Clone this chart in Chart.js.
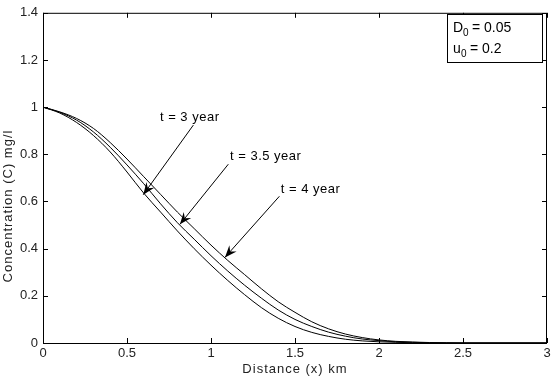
<!DOCTYPE html>
<html>
<head>
<meta charset="utf-8">
<style>
  html, body { margin: 0; padding: 0; background: #fff; }
  #wrap { width: 559px; height: 380px; }
</style>
</head>
<body>
<div id="wrap"><canvas id="myChart" width="559" height="380"></canvas></div>

<script src="https://cdn.jsdelivr.net/npm/chart.js"></script>
<script>
// distance (km)
const distance = [0, 0.1, 0.2, 0.3, 0.4, 0.5, 0.6, 0.7, 0.8, 0.9, 1.0, 1.1, 1.2, 1.3, 1.4, 1.5,
                  1.6, 1.7, 1.8, 1.9, 2.0, 2.1, 2.2, 2.3, 2.4, 2.5, 3.0];

// concentration
const conc3yr = [1.00, 0.975, 0.935, 0.88, 0.81, 0.725, 0.635, 0.555, 0.475, 0.40, 0.33, 0.265, 0.205, 0.15,
                 0.105, 0.07, 0.045, 0.028, 0.016, 0.009, 0.005, 0.003, 0.001, 0, 0, 0, 0];
const conc35yr = [1.00, 0.978, 0.945, 0.895, 0.83, 0.755, 0.675, 0.59, 0.51, 0.44, 0.37, 0.305, 0.245, 0.19,
                  0.14, 0.10, 0.07, 0.046, 0.029, 0.017, 0.01, 0.005, 0.003, 0.001, 0, 0, 0];
const conc4yr = [1.00, 0.98, 0.952, 0.91, 0.85, 0.78, 0.705, 0.63, 0.555, 0.485, 0.415, 0.35, 0.29, 0.23,
                 0.175, 0.13, 0.09, 0.06, 0.038, 0.023, 0.013, 0.007, 0.004, 0.002, 0.001, 0, 0];

const xTicks = [0, 0.5, 1, 1.5, 2, 2.5, 3];
const yTicks = [0, 0.2, 0.4, 0.6, 0.8, 1, 1.2, 1.4];

// curve labels: text anchor and arrow (tail -> tip) in data units
const curveLabels = [
  { text: 't = 3 year',   tx: 0.696, ty: 0.958, x0: 0.895, y0: 0.924, x1: 0.597, y1: 0.629 },
  { text: 't = 3.5 year', tx: 1.113, ty: 0.790, x0: 1.103, y0: 0.758, x1: 0.815, y1: 0.503 },
  { text: 't = 4 year',   tx: 1.415, ty: 0.653, x0: 1.407, y0: 0.622, x1: 1.083, y1: 0.363 }
];

const FONT = '"Liberation Sans", Arial, sans-serif';

const toXY = (xs, ys) => xs.map((x, i) => ({ x: x, y: ys[i] }));

// box frame, inward ticks, axis titles, arrows and the parameter box
const matlabAxes = {
  id: 'matlabAxes',
  afterDraw(chart) {
    const c = chart.ctx;
    const a = chart.chartArea;
    const sx = chart.scales.x, sy = chart.scales.y;
    c.save();
    c.strokeStyle = '#000';
    c.lineWidth = 1;
    c.strokeRect(a.left + 0.5, a.top + 0.5, a.right - a.left - 1, a.bottom - a.top);

    c.beginPath();
    xTicks.forEach(v => {
      const px = Math.round(sx.getPixelForValue(v)) + 0.5;
      c.moveTo(px, a.bottom); c.lineTo(px, a.bottom - 5);
      c.moveTo(px, a.top); c.lineTo(px, a.top + 5);
    });
    yTicks.forEach(v => {
      const py = Math.round(sy.getPixelForValue(v)) + 0.5;
      c.moveTo(a.left, py); c.lineTo(a.left + 5, py);
      c.moveTo(a.right, py); c.lineTo(a.right - 5, py);
    });
    c.stroke();

    // axis titles
    c.fillStyle = '#222';
    c.font = '13px ' + FONT;
    c.letterSpacing = '1px';
    c.textAlign = 'center';
    c.textBaseline = 'middle';
    c.fillText('Distance (x) km', (a.left + a.right) / 2, 369);
    c.save();
    c.translate(8, 206);
    c.rotate(-Math.PI / 2);
    c.fillText('Concentration (C) mg/l', 0, 0);
    c.restore();

    // curve labels with arrows
    c.fillStyle = '#000';
    c.font = '13px ' + FONT;
    c.letterSpacing = '0.5px';
    c.textAlign = 'left';
    curveLabels.forEach(l => {
      c.fillText(l.text, sx.getPixelForValue(l.tx), sy.getPixelForValue(l.ty));
      const x0 = sx.getPixelForValue(l.x0), y0 = sy.getPixelForValue(l.y0);
      const x1 = sx.getPixelForValue(l.x1), y1 = sy.getPixelForValue(l.y1);
      c.beginPath();
      c.moveTo(x0, y0); c.lineTo(x1, y1);
      c.stroke();
      const ang = Math.atan2(y1 - y0, x1 - x0);
      const len = 13, half = 0.38;
      c.beginPath();
      c.moveTo(x1, y1);
      c.lineTo(x1 - len * Math.cos(ang - half), y1 - len * Math.sin(ang - half));
      c.lineTo(x1 - len * 0.6 * Math.cos(ang), y1 - len * 0.6 * Math.sin(ang));
      c.lineTo(x1 - len * Math.cos(ang + half), y1 - len * Math.sin(ang + half));
      c.closePath();
      c.fill();
    });

    // parameter box
    c.letterSpacing = '0px';
    const bx = 447, by = 14, bw = 95, bh = 48;
    c.fillStyle = '#fff';
    c.fillRect(bx, by, bw, bh);
    c.strokeRect(bx + 0.5, by + 0.5, bw, bh);
    c.fillStyle = '#000';
    c.font = '14px ' + FONT;
    c.textBaseline = 'alphabetic';
    c.fillText('D', 453, 32);
    c.fillText('u', 453, 53);
    c.font = '10px ' + FONT;
    c.fillText('0', 463, 36);
    c.fillText('0', 461, 57);
    c.font = '14px ' + FONT;
    c.fillText('= 0.05', 472, 32);
    c.fillText('= 0.2', 470, 53);
    c.restore();
  }
};

new Chart(document.getElementById('myChart'), {
  type: 'line',
  data: {
    datasets: [
      { label: 't = 3 year',   data: toXY(distance, conc3yr) },
      { label: 't = 3.5 year', data: toXY(distance, conc35yr) },
      { label: 't = 4 year',   data: toXY(distance, conc4yr) }
    ].map(d => Object.assign(d, {
      borderColor: '#000',
      borderWidth: 1,
      pointRadius: 0,
      cubicInterpolationMode: 'monotone',
      fill: false
    }))
  },
  options: {
    responsive: false,
    animation: false,
    layout: { padding: { top: 10, right: 12, left: 0, bottom: 0 } },
    plugins: { legend: { display: false }, tooltip: { enabled: false } },
    scales: {
      x: {
        type: 'linear', min: 0, max: 3,
        afterBuildTicks: s => { s.ticks = xTicks.map(v => ({ value: v })); },
        afterFit: s => { s.height = 37; },
        grid: { display: false, drawTicks: false },
        border: { display: false },
        ticks: { color: '#222', padding: 3, maxRotation: 0, callback: v => String(v),
                 font: { family: FONT, size: 13 } }
      },
      y: {
        type: 'linear', min: 0, max: 1.4,
        afterBuildTicks: s => { s.ticks = yTicks.map(v => ({ value: v })); },
        afterFit: s => { s.width = 43; },
        grid: { display: false, drawTicks: false },
        border: { display: false },
        ticks: { color: '#222', padding: 5, callback: v => String(v),
                 font: { family: FONT, size: 13 } }
      }
    }
  },
  plugins: [matlabAxes]
});
</script>
</body>
</html>
